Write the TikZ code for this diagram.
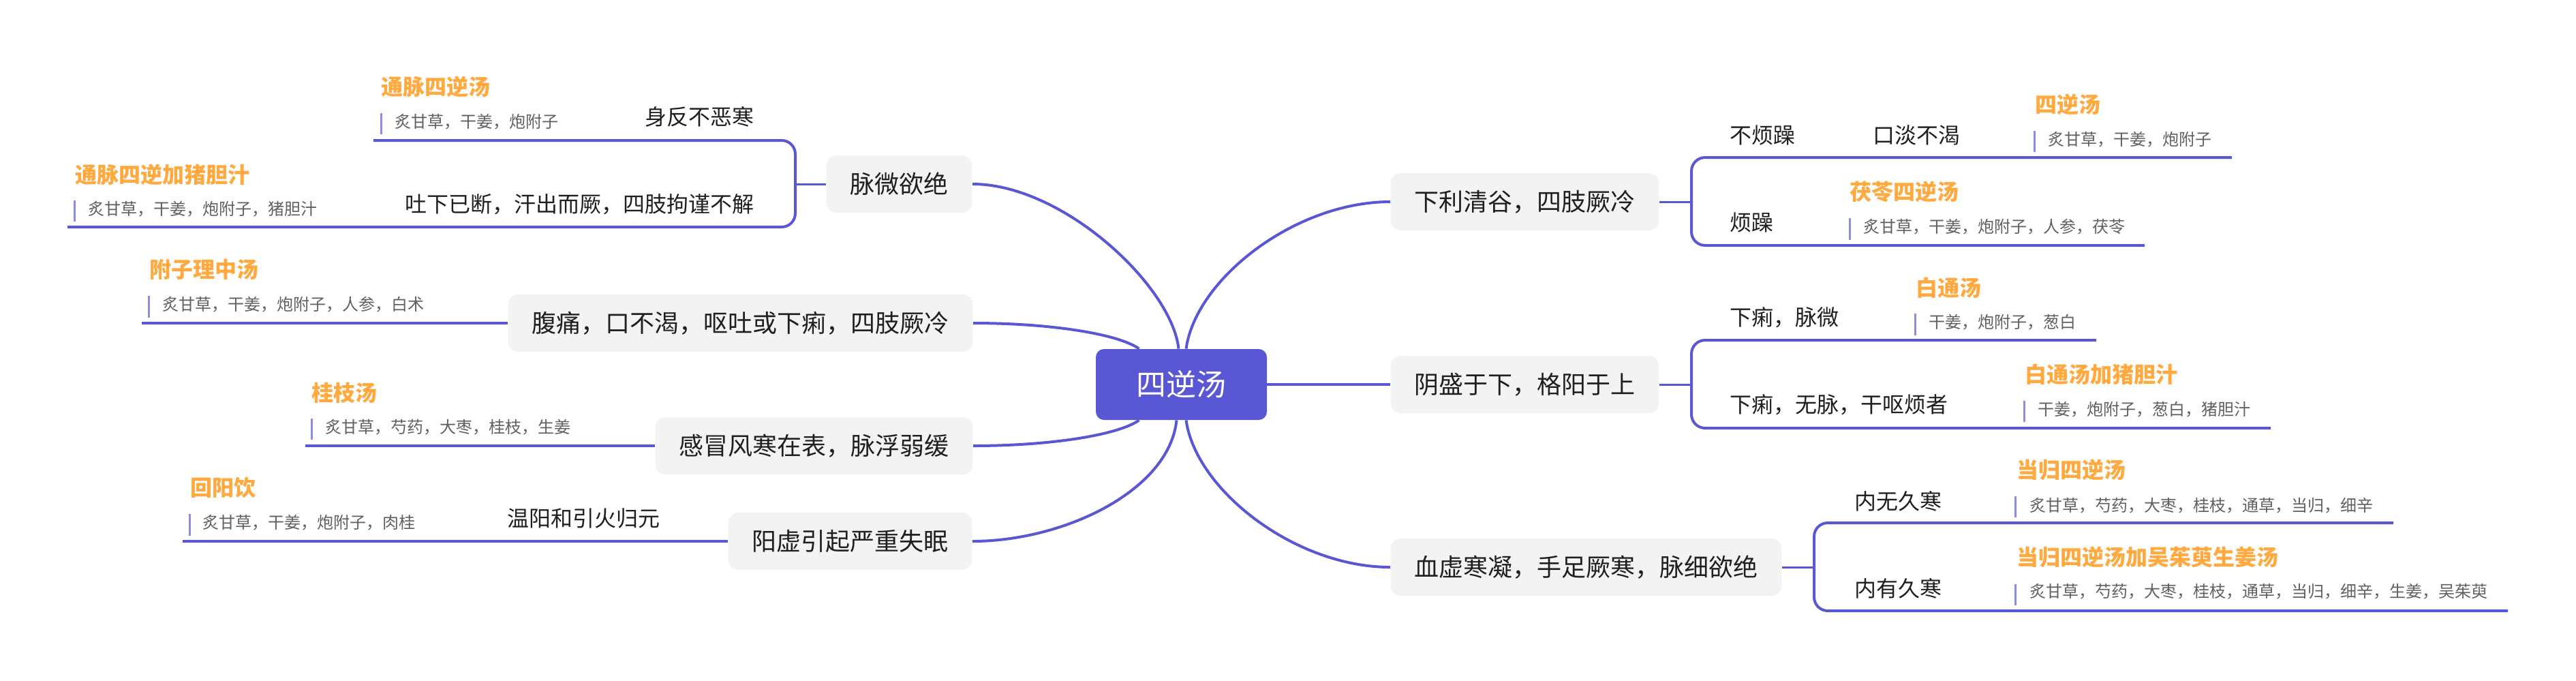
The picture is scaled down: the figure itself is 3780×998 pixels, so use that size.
\documentclass[tikz,border=0pt]{standalone}
\usepackage{fontspec}
\setmainfont{Noto Sans CJK SC}
\usetikzlibrary{calc}
\definecolor{mainc}{HTML}{5A57D4}
\definecolor{boxc}{HTML}{F3F3F3}
\definecolor{txtc}{HTML}{1F1F1F}
\definecolor{orangec}{HTML}{FFA93E}
\definecolor{grayc}{HTML}{606060}
\definecolor{barc}{HTML}{8E8BE6}
\tikzset{
  connline/.style={draw=mainc, line width=2pt},
  stubline/.style={draw=mainc, line width=1.5pt},
  bracketline/.style={draw=mainc, line width=2pt, rounded corners=10pt},
  rootbox/.style={fill=mainc, rounded corners=6pt, minimum width=125.5pt, minimum height=52pt, inner sep=0pt, text=white, font=\fontsize{22}{22}\selectfont},
  topicbox/.style={fill=boxc, rounded corners=7.5pt, minimum height=42pt, inner xsep=17.5pt, inner ysep=0pt, text=txtc, font=\fontsize{18}{18}\selectfont},
  lbltext/.style={inner sep=0pt, text=txtc, font=\fontsize{16}{16}\selectfont},
  ttltext/.style={inner sep=0pt, text=orangec, font=\bfseries\fontsize{16}{16}\selectfont},
  ingtext/.style={inner sep=0pt, text=grayc, font=\fontsize{12}{12}\selectfont},
  ingbar/.style={draw=barc, line width=1.5pt}
}
\begin{document}
\begin{tikzpicture}[x=0.5pt,y=-0.5pt]
\useasboundingbox (0,0) rectangle (3780,998);

% root
\node[rootbox] (c) at (1733.5,564) {四逆汤};

% main topics
\node[topicbox, anchor=east] (m1) at (1427,270) {脉微欲绝};
\node[topicbox, anchor=east] (m2) at (1428,474) {腹痛，口不渴，呕吐或下痢，四肢厥冷};
\node[topicbox, anchor=east] (m3) at (1428,654) {感冒风寒在表，脉浮弱缓};
\node[topicbox, anchor=east] (m4) at (1427,794) {阳虚引起严重失眠};
\node[topicbox, anchor=west] (r1) at (2040,296) {下利清谷，四肢厥冷};
\node[topicbox, anchor=west] (r2) at (2040,564) {阴盛于下，格阳于上};
\node[topicbox, anchor=west] (r3) at (2040,832) {血虚寒凝，手足厥寒，脉细欲绝};

% root connectors
\draw[connline] (m1.east) .. controls +(133,0) and +(-10,-92) .. ($(c.north)+(-4,0)$);
\draw[connline] (m2.east) .. controls +(112,0) and +(-31,-22) .. ($(c.north)+(-62,0)$);
\draw[connline] (m3.east) .. controls +(112,0) and +(-31,22) .. ($(c.south)+(-62,0)$);
\draw[connline] (m4.east) .. controls +(133,0) and +(-11,104) .. ($(c.south)+(-7,0)$);
\draw[connline] ($(c.north)+(7,0)$) .. controls +(14,-102) and +(-140,0) .. (r1.west);
\draw[connline] (c.east) -- (r2.west);
\draw[connline] ($(c.south)+(7,0)$) .. controls +(14,102) and +(-140,0) .. (r3.west);

% ---- left: 脉微欲绝
\coordinate (b1) at (1167,270);
\coordinate (e1a) at (548,206);
\coordinate (e1b) at (99,333);
\draw[stubline] (m1.west) -- (b1);
\draw[bracketline] (b1) |- (e1a);
\draw[bracketline] (b1) |- (e1b);
\node[lbltext, anchor=east] (l1a) at (1107,171) {身反不恶寒};
\node[ttltext, anchor=west] (t1a) at (559,127) {通脉四逆汤};
\node[ingtext, anchor=west] (g1a) at (579,179) {炙甘草，干姜，炮附子};
\draw[ingbar] (559,166) -- (559,197);
\node[lbltext, anchor=east] (l1b) at (1107,300) {吐下已断，汗出而厥，四肢拘谨不解};
\node[ttltext, anchor=west] (t1b) at (110,256) {通脉四逆加猪胆汁};
\node[ingtext, anchor=west] (g1b) at (129,307) {炙甘草，干姜，炮附子，猪胆汁};
\draw[ingbar] (109,294) -- (109,325);

% ---- left: 腹痛
\coordinate (e2) at (208,474);
\draw[connline] (m2.west) -- (e2);
\node[ttltext, anchor=west] (t2) at (219,395) {附子理中汤};
\node[ingtext, anchor=west] (g2) at (238,447) {炙甘草，干姜，炮附子，人参，白术};
\draw[ingbar] (218,434) -- (218,466);

% ---- left: 感冒
\coordinate (e3) at (448,654);
\draw[connline] (m3.west) -- (e3);
\node[ttltext, anchor=west] (t3) at (457,576) {桂枝汤};
\node[ingtext, anchor=west] (g3) at (477,627) {炙甘草，芍药，大枣，桂枝，生姜};
\draw[ingbar] (457,614) -- (457,645);

% ---- left: 阳虚
\coordinate (e4) at (268,794);
\draw[connline] (m4.west) -- (e4);
\node[lbltext, anchor=west] (l4) at (744,760) {温阳和引火归元};
\node[ttltext, anchor=west] (t4) at (279,715) {回阳饮};
\node[ingtext, anchor=west] (g4) at (297,767) {炙甘草，干姜，炮附子，肉桂};
\draw[ingbar] (278,754) -- (278,786);

% ---- right: 下利清谷
\coordinate (b5) at (2482,296);
\coordinate (e5a) at (3275,231);
\coordinate (e5b) at (3147,360);
\draw[stubline] (r1.east) -- (b5);
\draw[bracketline] (b5) |- (e5a);
\draw[bracketline] (b5) |- (e5b);
\node[lbltext, anchor=west] (l5a) at (2538,198) {不烦躁};
\node[lbltext, anchor=west] (l5c) at (2748,198) {口淡不渴};
\node[ttltext, anchor=west] (t5a) at (2986,153) {四逆汤};
\node[ingtext, anchor=west] (g5a) at (3005,205) {炙甘草，干姜，炮附子};
\draw[ingbar] (2985,192) -- (2985,223);
\node[lbltext, anchor=west] (l5b) at (2538,326) {烦躁};
\node[ttltext, anchor=west] (t5b) at (2714,281) {茯苓四逆汤};
\node[ingtext, anchor=west] (g5b) at (2734,333) {炙甘草，干姜，炮附子，人参，茯苓};
\draw[ingbar] (2714,320) -- (2714,352);

% ---- right: 阴盛于下
\coordinate (b6) at (2482,564);
\coordinate (e6a) at (3076,499);
\coordinate (e6b) at (3332,628);
\draw[stubline] (r2.east) -- (b6);
\draw[bracketline] (b6) |- (e6a);
\draw[bracketline] (b6) |- (e6b);
\node[lbltext, anchor=west] (l6a) at (2538,466) {下痢，脉微};
\node[ttltext, anchor=west] (t6a) at (2811,422) {白通汤};
\node[ingtext, anchor=west] (g6a) at (2830,473) {干姜，炮附子，葱白};
\draw[ingbar] (2810,460) -- (2810,492);
\node[lbltext, anchor=west] (l6b) at (2538,594) {下痢，无脉，干呕烦者};
\node[ttltext, anchor=west] (t6b) at (2971,549) {白通汤加猪胆汁};
\node[ingtext, anchor=west] (g6b) at (2990,601) {干姜，炮附子，葱白，猪胆汁};
\draw[ingbar] (2970,588) -- (2970,619);

% ---- right: 血虚寒凝
\coordinate (b7) at (2662,832);
\coordinate (e7a) at (3512,767);
\coordinate (e7b) at (3680,896);
\draw[stubline] (r3.east) -- (b7);
\draw[bracketline] (b7) |- (e7a);
\draw[bracketline] (b7) |- (e7b);
\node[lbltext, anchor=west] (l7a) at (2721,735) {内无久寒};
\node[ttltext, anchor=west] (t7a) at (2959,689) {当归四逆汤};
\node[ingtext, anchor=west] (g7a) at (2978,742) {炙甘草，芍药，大枣，桂枝，通草，当归，细辛};
\draw[ingbar] (2957,728) -- (2957,759);
\node[lbltext, anchor=west] (l7b) at (2721,863) {内有久寒};
\node[ttltext, anchor=west] (t7b) at (2959,817) {当归四逆汤加吴茱萸生姜汤};
\node[ingtext, anchor=west] (g7b) at (2978,868) {炙甘草，芍药，大枣，桂枝，通草，当归，细辛，生姜，吴茱萸};
\draw[ingbar] (2957,857) -- (2957,888);

\end{tikzpicture}
\end{document}
